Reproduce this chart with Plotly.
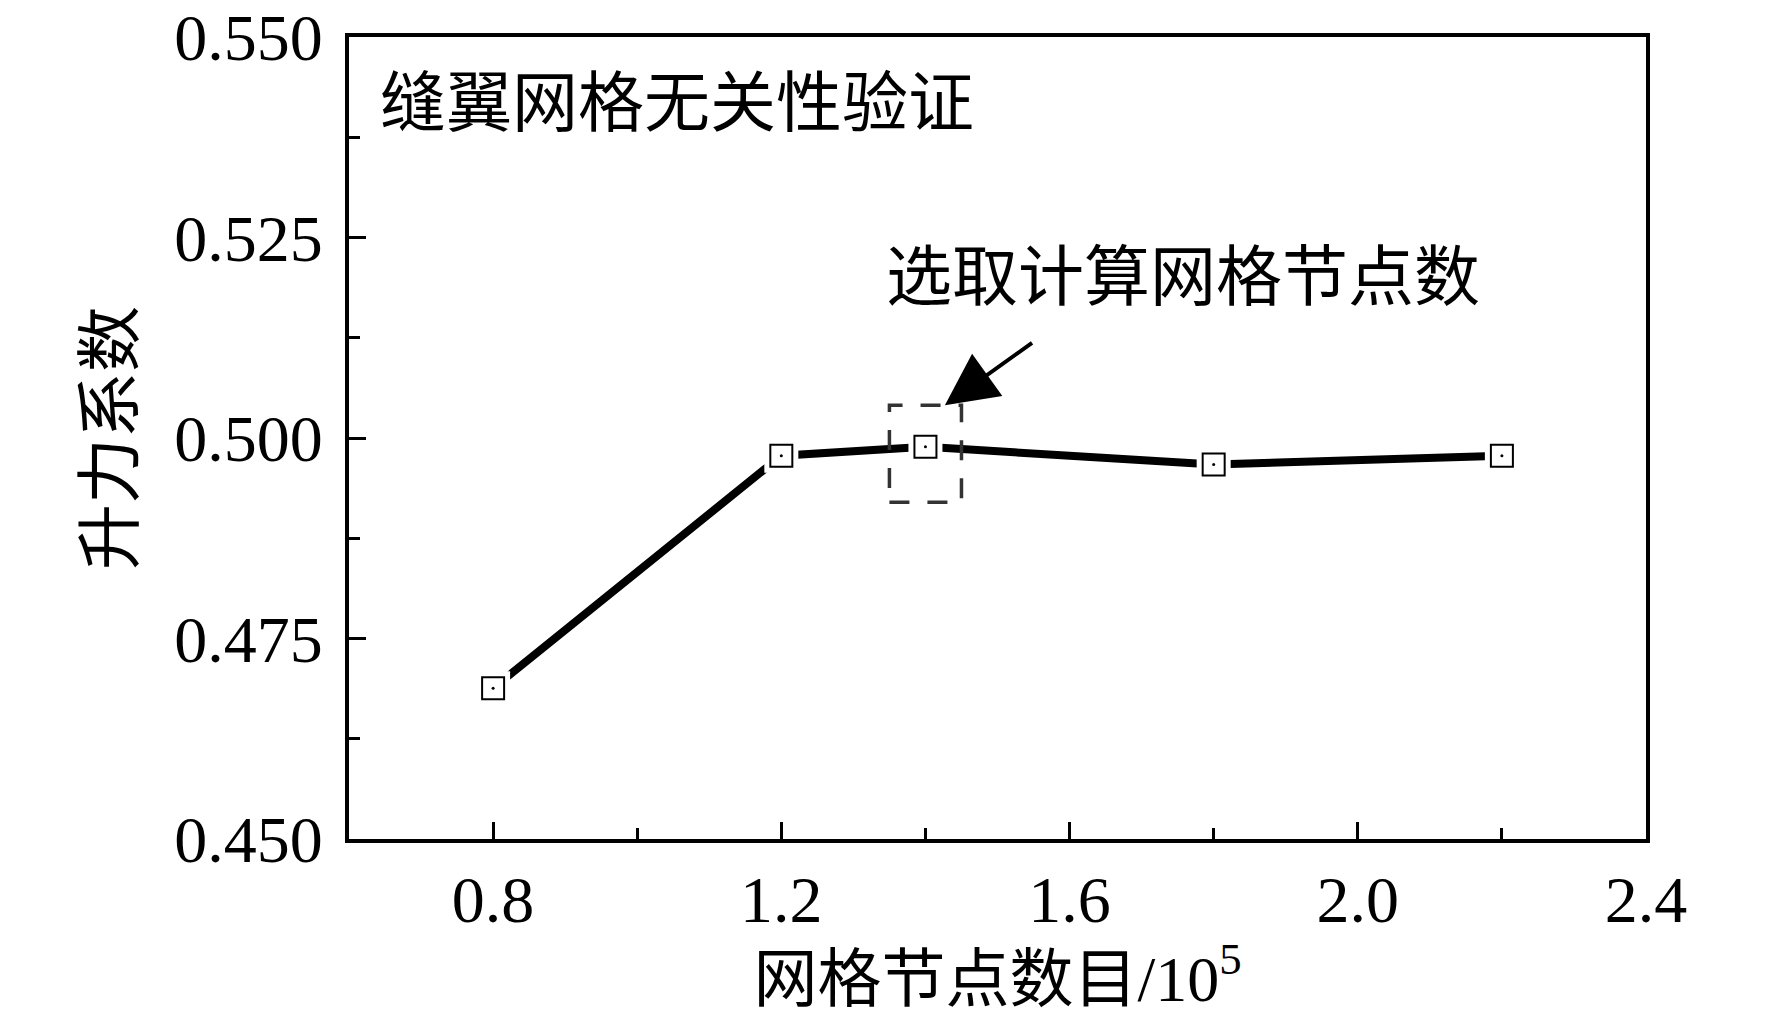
import plotly.graph_objects as go

# grid nodes (x10^5) vs lift coefficient
nodes = [0.8, 1.2, 1.4, 1.8, 2.2]
lift = [0.4688, 0.4978, 0.4989, 0.4967, 0.4978]

x_ticks = [0.8, 1.2, 1.6, 2.0, 2.4]
y_ticks = [0.450, 0.475, 0.500, 0.525, 0.550]

title_text = "缝翼网格无关性验证"
note_text = "选取计算网格节点数"
x_title = "网格节点数目/10<sup>5</sup>"
y_title = "升力系数"

FONT = "Liberation Serif, Noto Sans CJK SC, serif"

fig = go.Figure()

# thick black line
fig.add_trace(go.Scatter(
    x=nodes, y=lift, mode="lines",
    line=dict(color="black", width=8),
    showlegend=False, hoverinfo="skip",
))
# white halo so the line stops short of each marker
fig.add_trace(go.Scatter(
    x=nodes, y=lift, mode="markers",
    marker=dict(symbol="square", size=34, color="white", line=dict(width=0)),
    showlegend=False, hoverinfo="skip",
))
# open square markers
fig.add_trace(go.Scatter(
    x=nodes, y=lift, mode="markers",
    marker=dict(symbol="square", size=22, color="white",
                line=dict(color="black", width=2)),
    showlegend=False,
))
# little dot in the middle of each marker
fig.add_trace(go.Scatter(
    x=nodes, y=lift, mode="markers",
    marker=dict(symbol="circle", size=3, color="black"),
    showlegend=False, hoverinfo="skip",
))

# dashed box round the chosen grid
fig.add_shape(
    type="rect", xref="x", yref="y",
    x0=1.35, x1=1.45, y0=0.4920, y1=0.5041,
    line=dict(color="#333333", width=3.5, dash="20px,18px"),
    layer="above",
)

fig.add_annotation(
    x=1.427, y=0.5041, ax=1.550, ay=0.5120,
    xref="x", yref="y", axref="x", ayref="y",
    text="", showarrow=True, arrowhead=2, arrowsize=2.6,
    arrowwidth=4, arrowcolor="black",
)
fig.add_annotation(
    x=1.757, y=0.5200, xref="x", yref="y",
    text=note_text, showarrow=False,
    font=dict(family=FONT, size=66, color="black"),
)
fig.add_annotation(
    x=0.022, y=0.917, xref="paper", yref="paper",
    xanchor="left", yanchor="middle",
    text=title_text, showarrow=False,
    font=dict(family=FONT, size=66, color="black"),
)

axis_common = dict(
    showline=True, linecolor="black", linewidth=4, mirror=True,
    ticks="inside", ticklen=17, tickwidth=3, tickcolor="black",
    showgrid=False, zeroline=False, ticklabeloverflow="allow",
    automargin=False,
    tickfont=dict(family=FONT, size=66, color="black"),
)

fig.update_xaxes(
    range=[0.6, 2.4], tickvals=x_ticks, tickformat=".1f",
    minor=dict(dtick=0.2, tick0=0.6, ticks="inside", ticklen=11,
               tickwidth=3, tickcolor="black"),
    ticklabelstandoff=0,
    title=dict(text=x_title, font=dict(family=FONT, size=64, color="black"),
               standoff=10),
    **axis_common,
)
fig.update_yaxes(
    range=[0.45, 0.55001], tickvals=y_ticks, tickformat=".3f",
    minor=dict(dtick=0.0125, tick0=0.45, ticks="inside", ticklen=11,
               tickwidth=3, tickcolor="black"),
    ticklabelstandoff=9,
    title=dict(text=y_title, font=dict(family=FONT, size=66, color="black"),
               standoff=20),
    **axis_common,
)

fig.update_layout(
    plot_bgcolor="white", paper_bgcolor="white",
    margin=dict(l=341, r=118, t=29, b=176),
    showlegend=False,
)

fig.write_html("out.html")
